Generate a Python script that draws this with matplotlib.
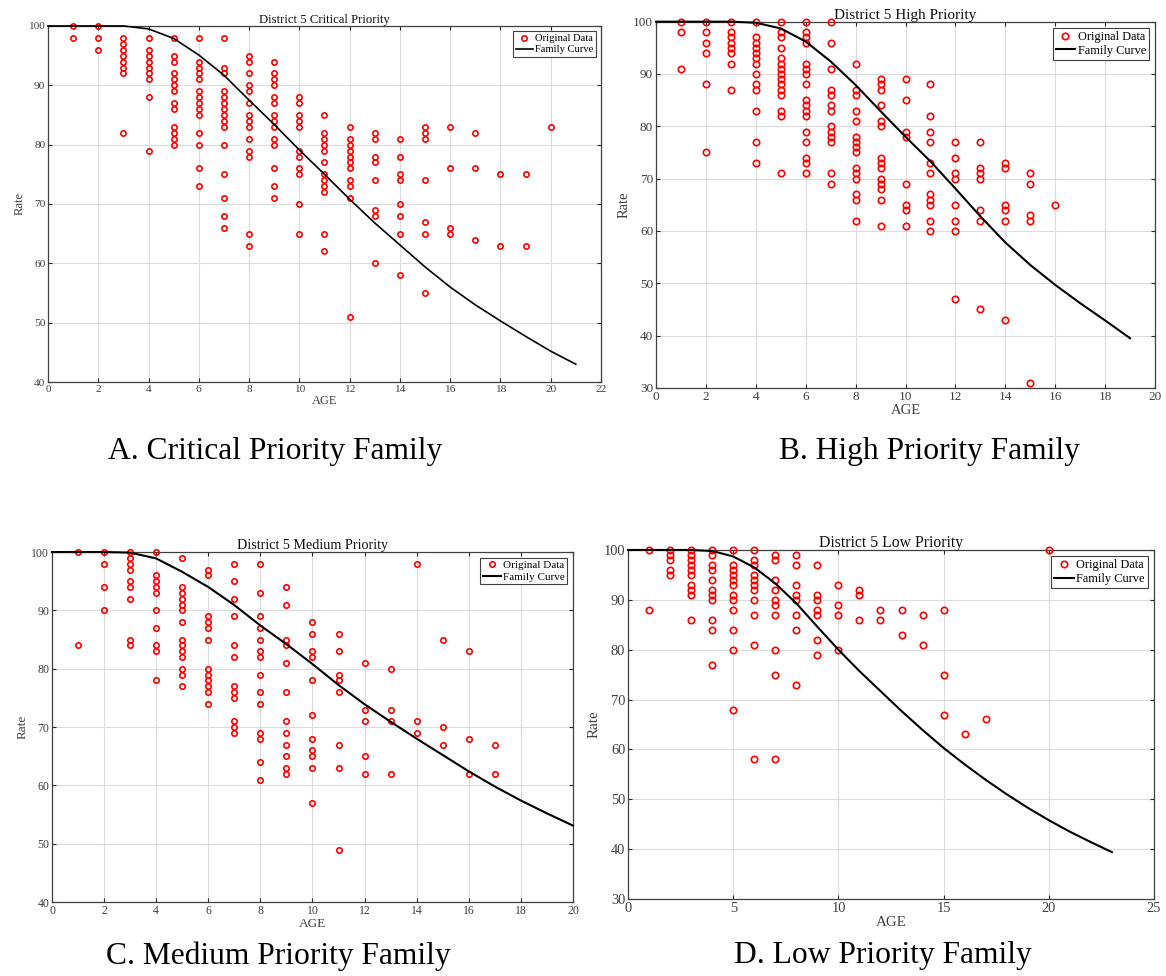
import numpy as np
import matplotlib.pyplot as plt

plt.rcParams['font.family'] = ['Liberation Serif', 'DejaVu Serif']

# ---- Critical priority family (age -> observed rates) ----
crit_rates = {
    1: [100, 98],
    2: [100, 98, 96],
    3: [98, 97, 96, 95, 94, 93, 92, 82],
    4: [98, 96, 95, 94, 93, 92, 91, 88, 79],
    5: [98, 95, 94, 92, 91, 90, 89, 87, 86, 83, 82, 81, 80],
    6: [98, 94, 93, 92, 91, 89, 88, 87, 86, 85, 82, 80, 76, 73],
    7: [98, 93, 92, 89, 88, 87, 86, 85, 84, 83, 80, 75, 71, 68, 66],
    8: [95, 94, 92, 90, 89, 87, 85, 84, 83, 81, 79, 78, 65, 63],
    9: [94, 92, 91, 90, 88, 87, 85, 84, 83, 81, 80, 76, 73, 71],
    10: [88, 87, 85, 84, 83, 79, 78, 76, 75, 70, 65],
    11: [85, 82, 81, 80, 79, 77, 75, 74, 73, 72, 65, 62],
    12: [83, 81, 80, 79, 78, 77, 76, 74, 73, 71, 51],
    13: [82, 81, 78, 77, 74, 69, 68, 60],
    14: [81, 78, 75, 74, 70, 68, 65, 58],
    15: [83, 82, 81, 74, 67, 65, 55],
    16: [83, 76, 66, 65],
    17: [82, 76, 64],
    18: [75, 63],
    19: [75, 63],
    20: [83],
}
crit_curve_age = list(range(0, 22))
crit_curve_rate = [100, 100, 100, 100, 99.5, 97.9, 95.1, 91.7, 87.5, 83.4, 79.1,
                   75.0, 70.8, 66.8, 63.1, 59.4, 56.0, 53.0, 50.3, 47.7, 45.2, 43.0]

# ---- High priority family ----
high_rates = {
    1: [100, 98, 91],
    2: [100, 98, 96, 94, 88, 75],
    3: [100, 98, 97, 96, 95, 94, 92, 87],
    4: [100, 97, 96, 95, 94, 93, 92, 90, 88, 87, 83, 77, 73],
    5: [100, 98, 97, 95, 93, 92, 91, 90, 89, 88, 87, 86, 83, 82, 71],
    6: [100, 98, 97, 96, 92, 91, 90, 88, 85, 84, 83, 82, 79, 77, 74, 73, 71],
    7: [100, 96, 91, 87, 86, 84, 83, 80, 79, 78, 77, 71, 69],
    8: [92, 87, 86, 83, 81, 78, 77, 76, 75, 72, 71, 70, 67, 66, 62],
    9: [89, 88, 87, 84, 81, 80, 74, 73, 72, 70, 69, 68, 66, 61],
    10: [89, 85, 79, 78, 69, 65, 64, 61],
    11: [88, 82, 79, 77, 73, 71, 67, 66, 65, 62, 60],
    12: [77, 74, 71, 70, 65, 62, 60, 47],
    13: [77, 72, 71, 70, 64, 62, 45],
    14: [73, 72, 65, 64, 62, 43],
    15: [71, 69, 63, 62, 31],
    16: [65],
}
high_curve_age = list(range(0, 20))
high_curve_rate = [100, 100, 100, 100, 99.8, 98.7, 96.2, 92.4, 87.9, 82.9,
                   78.0, 73.3, 68.1, 62.8, 57.8, 53.5, 49.7, 46.2, 42.9, 39.5]

# ---- Medium priority family ----
med_rates = {
    1: [100, 84],
    2: [100, 98, 94, 90],
    3: [100, 99, 98, 97, 95, 94, 92, 85, 84],
    4: [100, 96, 95, 94, 93, 90, 87, 84, 83, 78],
    5: [99, 94, 93, 92, 91, 90, 88, 85, 84, 83, 82, 80, 79, 77],
    6: [97, 96, 89, 88, 87, 85, 80, 79, 78, 77, 76, 74],
    7: [98, 95, 92, 89, 84, 82, 77, 76, 75, 71, 70, 69],
    8: [98, 93, 89, 87, 85, 83, 82, 79, 76, 74, 69, 68, 64, 61],
    9: [94, 91, 85, 84, 81, 76, 71, 69, 67, 65, 63, 62],
    10: [88, 86, 83, 82, 78, 72, 68, 66, 65, 63, 57],
    11: [86, 83, 79, 78, 76, 67, 63, 49],
    12: [81, 73, 71, 65, 62],
    13: [80, 73, 71, 62],
    14: [98, 71, 69],
    15: [85, 70, 67],
    16: [83, 68, 62],
    17: [67, 62],
}
med_curve_age = list(range(0, 21))
med_curve_rate = [100, 100, 100, 99.9, 98.9, 96.6, 94.0, 90.9, 87.4, 84.2, 80.8,
                  77.2, 73.9, 70.9, 68.0, 65.2, 62.4, 59.8, 57.4, 55.2, 53.1]

# ---- Low priority family ----
low_rates = {
    1: [100, 88],
    2: [100, 99, 98, 96, 95],
    3: [100, 99, 98, 97, 96, 95, 93, 92, 91, 86],
    4: [100, 99, 97, 96, 94, 92, 91, 90, 86, 84, 77],
    5: [100, 97, 96, 95, 94, 93, 91, 90, 88, 84, 80, 68],
    6: [100, 98, 97, 95, 94, 93, 92, 90, 87, 81, 58],
    7: [99, 98, 94, 92, 90, 89, 87, 80, 75, 58],
    8: [99, 97, 93, 91, 90, 87, 84, 73],
    9: [97, 91, 90, 88, 87, 82, 79],
    10: [93, 89, 87, 80],
    11: [92, 91, 86],
    12: [88, 86],
    13: [88, 83],
    14: [87, 81],
    15: [88, 75, 67],
    16: [63],
    17: [66],
    20: [100],
}
low_curve_age = list(range(0, 24))
low_curve_rate = [100, 100, 100, 100, 99.8, 98.7, 96.5, 93.3, 89.3, 84.6, 80.0,
                  75.7, 71.7, 67.7, 63.9, 60.3, 57.0, 53.9, 51.0, 48.3, 45.8,
                  43.5, 41.4, 39.4]


def flatten(rates):
    ages, vals = [], []
    for age, rs in rates.items():
        ages += [age] * len(rs)
        vals += rs
    return ages, vals


def draw_panel(fig, rect, title, rates, curve_age, curve_rate,
               xlim, xticks, ylim, fs, ms, lw):
    ax = fig.add_axes(rect)
    ages, vals = flatten(rates)
    # markers on the top edge stay whole, as in MATLAB output
    ax.plot(ages, vals, 'o', ls='none', mfc='none', mec='red',
            ms=ms, mew=1.2, label='Original Data', zorder=3, clip_on=False)
    ax.plot(curve_age, curve_rate, color='black', lw=lw,
            label='Family Curve', zorder=4, clip_on=False)

    ax.set_xlim(*xlim)
    ax.set_ylim(*ylim)
    ax.set_xticks(xticks)
    ax.set_yticks(np.arange(ylim[0], ylim[1] + 1, 10))
    ax.grid(True, color='#dcdcdc', lw=0.8)
    ax.set_axisbelow(True)
    ax.tick_params(direction='in', top=True, right=True, length=3,
                   width=0.8, colors='#262626', labelsize=fs['tick'],
                   labelcolor='#404040', pad=2)
    for sp in ax.spines.values():
        sp.set_color('#404040')
        sp.set_linewidth(0.9)

    ax.set_title(title, fontsize=fs['title'], pad=2, color='#111111')
    ax.set_xlabel('AGE', fontsize=fs['label'], labelpad=1, color='#404040')
    ax.set_ylabel('Rate', fontsize=fs['label'], labelpad=2, color='#404040')

    leg = ax.legend(loc='upper right', fontsize=fs['legend'], fancybox=False,
                    framealpha=1, edgecolor='#404040', borderpad=0.25,
                    labelspacing=0.15, handlelength=1.6, handletextpad=0.2,
                    borderaxespad=0.5, numpoints=1)
    leg.get_frame().set_linewidth(0.8)
    leg.set_zorder(5)
    return ax


fig = plt.figure(figsize=(11.66, 9.76), dpi=100)

draw_panel(fig, [0.0412, 0.6086, 0.4742, 0.3648], 'District 5 Critical Priority',
           crit_rates, crit_curve_age, crit_curve_rate,
           (0, 22), range(0, 23, 2), (40, 100),
           dict(tick=8.2, label=9, title=9.2, legend=7.6), 3.8, 1.2)

draw_panel(fig, [0.5626, 0.6025, 0.4280, 0.3753], 'District 5 High Priority',
           high_rates, high_curve_age, high_curve_rate,
           (0, 20), range(0, 21, 2), (30, 100),
           dict(tick=9.5, label=10.5, title=11, legend=8.8), 4.6, 1.5)

draw_panel(fig, [0.0446, 0.0758, 0.4468, 0.3586], 'District 5 Medium Priority',
           med_rates, med_curve_age, med_curve_rate,
           (0, 20), range(0, 21, 2), (40, 100),
           dict(tick=8.5, label=9.5, title=10.2, legend=8.0), 3.9, 1.5)

draw_panel(fig, [0.5386, 0.0789, 0.4511, 0.3576], 'District 5 Low Priority',
           low_rates, low_curve_age, low_curve_rate,
           (0, 25), range(0, 26, 5), (30, 100),
           dict(tick=10.4, label=10.8, title=11.3, legend=8.9), 4.6, 1.5)

# panel captions
cap_kw = dict(fontsize=22.7, ha='center', va='center', color='black')
fig.text(275 / 1166, 1 - 451 / 976, 'A. Critical Priority Family', **cap_kw)
fig.text(929 / 1166, 1 - 451 / 976, 'B. High Priority Family', **cap_kw)
fig.text(278 / 1166, 1 - 956 / 976, 'C. Medium Priority Family', **cap_kw)
fig.text(883 / 1166, 1 - 956 / 976, 'D. Low Priority Family', **cap_kw)

fig.savefig('out.png', dpi=100)
